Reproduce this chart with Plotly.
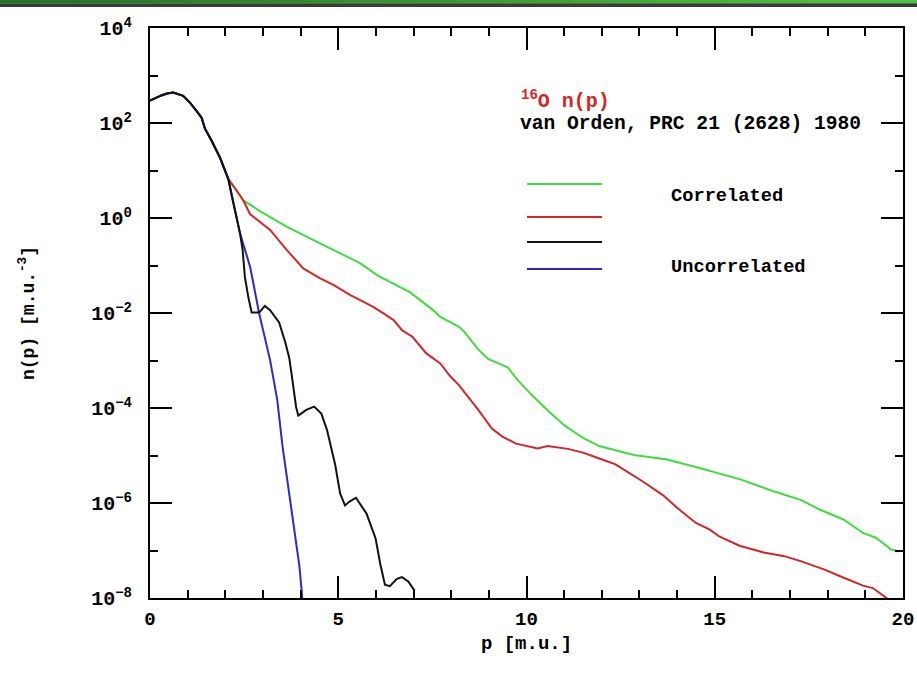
import plotly.graph_objects as go

# ---------------- data ----------------
p_correlated = [0, 0.15, 0.3, 0.45, 0.62, 0.88, 1.06, 1.24, 1.37, 1.46, 1.64, 1.86, 2.08,
                2.3, 2.48, 3.01, 3.63, 4.25, 4.87, 5.58, 6.06, 6.29, 6.9, 7.52, 7.71,
                8.21, 8.35, 8.7, 8.99, 9.2, 9.5, 9.75, 10.18, 10.6, 11.01, 11.5, 11.93,
                12.85, 13.7, 14.5, 15.3, 15.7, 16.58, 17.3, 17.8, 18.42, 18.94, 19.28,
                19.69, 19.9]
n_correlated = [295, 339, 380, 417, 437, 372, 269, 178, 129, 75.9, 41.7, 18.6, 6.6,
                3.8, 2.34, 1.26, 0.66, 0.372, 0.214, 0.112, 0.0603, 0.049, 0.0275, 0.0115, 8.3e-3,
                5.1e-3, 4.0e-3, 1.78e-3, 1.07e-3, 9.1e-4, 7.2e-4, 4.0e-4, 1.74e-4, 8.3e-5, 4.3e-5, 2.34e-5, 1.58e-5,
                1.02e-5, 8.3e-6, 5.75e-6, 3.8e-6, 3.1e-6, 1.74e-6, 1.15e-6, 7.2e-7, 4.5e-7, 2.34e-7, 1.86e-7,
                1.05e-7, 9.5e-8]

p_red = [0, 0.15, 0.3, 0.45, 0.62, 0.88, 1.06, 1.24, 1.37, 1.46, 1.64, 1.86, 2.08,
         2.3, 2.48, 2.66, 3.19, 3.63, 4.07, 4.52, 4.87, 5.31, 5.93, 6.2, 6.47, 6.7, 6.97,
         7.34, 7.71, 7.98, 8.21, 8.72, 9.08, 9.36, 9.72, 10.3, 10.56, 11.1, 11.5, 11.86,
         12.35, 12.65, 13.1, 13.63, 14.0, 14.5, 14.87, 15.13, 15.66, 16.3, 16.85, 17.3,
         17.9, 18.41, 18.94, 19.2, 19.6]
n_red = [295, 339, 380, 417, 437, 372, 269, 178, 129, 75.9, 41.7, 18.6, 6.6,
         3.8, 2.34, 1.2, 0.56, 0.214, 0.087, 0.0537, 0.0389, 0.024, 0.0135, 9.8e-3, 7.1e-3, 4.3e-3, 3.16e-3,
         1.41e-3, 8.7e-4, 4.6e-4, 3.0e-4, 9.1e-5, 3.7e-5, 2.5e-5, 1.78e-5, 1.41e-5, 1.58e-5, 1.38e-5, 1.15e-5, 9.1e-6,
         6.6e-6, 4.7e-6, 2.8e-6, 1.45e-6, 7.9e-7, 3.8e-7, 2.75e-7, 1.95e-7, 1.26e-7, 9.1e-8, 7.6e-8, 5.9e-8,
         4.0e-8, 2.7e-8, 1.82e-8, 1.62e-8, 9.5e-9]

p_black = [0, 0.15, 0.3, 0.45, 0.62, 0.88, 1.06, 1.24, 1.37, 1.46, 1.64, 1.86, 2.08,
           2.2, 2.39, 2.46, 2.52, 2.61, 2.70, 2.90, 3.05, 3.19, 3.43, 3.60, 3.70, 3.78,
           3.88, 3.94, 4.15, 4.36, 4.55, 4.70, 4.92, 5.05, 5.18, 5.30, 5.47, 5.75, 5.99,
           6.12, 6.24, 6.37, 6.55, 6.69, 6.86, 7.03]
n_black = [295, 339, 380, 417, 437, 372, 269, 178, 129, 75.9, 41.7, 18.6, 6.6,
           2.3, 0.48, 0.214, 0.0575, 0.0219, 0.0102, 0.0102, 0.0141, 0.0115, 6.3e-3, 2.3e-3, 1.12e-3, 4.0e-4,
           1.05e-4, 6.9e-5, 9.1e-5, 1.07e-4, 7.6e-5, 3.5e-5, 6.3e-6, 1.58e-6, 8.9e-7, 1.07e-6, 1.29e-6, 6.0e-7, 1.82e-7,
           5.0e-8, 1.9e-8, 1.78e-8, 2.5e-8, 2.75e-8, 2.24e-8, 1.41e-8]

p_uncorrelated = [0, 0.15, 0.3, 0.45, 0.62, 0.88, 1.06, 1.24, 1.37, 1.46, 1.64, 1.86, 2.08,
                  2.2, 2.39, 2.66, 2.90, 3.19, 3.38, 3.52, 3.72, 3.85, 3.97, 4.05]
n_uncorrelated = [295, 339, 380, 417, 437, 372, 269, 178, 129, 75.9, 41.7, 18.6, 6.6,
                  2.4, 0.48, 0.093, 9.8e-3, 1.02e-3, 1.48e-4, 1.55e-5, 1.15e-6, 2.3e-7, 4.6e-8, 8.9e-9]

x_tick_vals = [0, 5, 10, 15, 20]
x_tick_text = ["0", "5", "10", "15", "20"]
y_tick_vals = [1e-8, 1e-6, 1e-4, 1e-2, 1e0, 1e2, 1e4]
y_tick_text = ["10<sup>\u22128</sup>", "10<sup>\u22126</sup>", "10<sup>\u22124</sup>",
               "10<sup>\u22122</sup>", "10<sup>0</sup>", "10<sup>2</sup>", "10<sup>4</sup>"]
y_minor_vals = [1e-7, 1e-5, 1e-3, 1e-1, 1e1, 1e3]

title_text = "<sup>16</sup>O n(p)"
ref_text = "van Orden, PRC 21 (2628) 1980"
label_corr = "Correlated"
label_uncorr = "Uncorrelated"
x_title = "p [m.u.]"
y_title = "n(p) [m.u.<sup>-3</sup>]"

GREEN = "#3fdc3f"
RED = "#d42626"
BLACK = "#111111"
BLUE = "#2a2ad0"
FONT = "Liberation Mono"

# ---------------- figure ----------------
fig = go.Figure()
series = [
    (p_correlated, n_correlated, GREEN),
    (p_red, n_red, RED),
    (p_uncorrelated, n_uncorrelated, BLUE),
    (p_black, n_black, BLACK),
]
for px, ny, col in series:
    fig.add_trace(go.Scatter(x=px, y=ny, mode="lines",
                             line=dict(color=col, width=2), showlegend=False,
                             hoverinfo="skip"))

W, H = 917, 680
L, R, T, B = 150, 14, 28, 82
pw, ph = W - L - R, H - T - B


def px2x(x):
    return (x - L) / pw


def py2y(y):
    return (H - B - y) / ph


shapes = []
# top banner: green gradient stripe + dark grey stripe
nseg = 24
for i in range(nseg):
    f = i / (nseg - 1)
    r = int(0x1c + (0x4c - 0x1c) * f)
    g = int(0x78 + (0xc8 - 0x78) * f)
    b = int(0x1c + (0x3c - 0x1c) * f)
    shapes.append(dict(type="rect", xref="paper", yref="paper",
                       x0=px2x(i * W / nseg), x1=px2x((i + 1) * W / nseg + 1),
                       y0=py2y(3.3), y1=py2y(0), line=dict(width=0),
                       fillcolor=f"rgb({r},{g},{b})", layer="above"))
shapes.append(dict(type="rect", xref="paper", yref="paper",
                   x0=px2x(0), x1=px2x(W), y0=py2y(7), y1=py2y(3.3),
                   line=dict(width=0), fillcolor="#3a3a3a", layer="above"))

# legend sample lines
for ypix, col in [(184, GREEN), (217, RED), (242, BLACK), (269, BLUE)]:
    shapes.append(dict(type="line", xref="paper", yref="paper",
                       x0=px2x(527), x1=px2x(602), y0=py2y(ypix), y1=py2y(ypix),
                       line=dict(color=col, width=2)))

annotations = [
    dict(text=title_text, x=px2x(519), y=py2y(100), xref="paper", yref="paper",
         xanchor="left", yanchor="middle", showarrow=False,
         font=dict(family=FONT, size=20, color=RED, weight="bold")),
    dict(text=ref_text, x=px2x(518), y=py2y(124), xref="paper", yref="paper",
         xanchor="left", yanchor="middle", showarrow=False,
         font=dict(family=FONT, size=19.6, color="black", weight="bold")),
    dict(text=label_corr, x=px2x(669), y=py2y(196), xref="paper", yref="paper",
         xanchor="left", yanchor="middle", showarrow=False,
         font=dict(family=FONT, size=18.7, color="black", weight="bold")),
    dict(text=label_uncorr, x=px2x(669), y=py2y(267), xref="paper", yref="paper",
         xanchor="left", yanchor="middle", showarrow=False,
         font=dict(family=FONT, size=18.7, color="black", weight="bold")),
]

fig.update_layout(
    width=W, height=H,
    margin=dict(l=L, r=R, t=T, b=B, pad=0, autoexpand=False),
    paper_bgcolor="white", plot_bgcolor="white",
    font=dict(family=FONT, size=18, color="black"),
    shapes=shapes, annotations=annotations,
    xaxis=dict(range=[0, 20], tickmode="array", tickvals=x_tick_vals, ticktext=x_tick_text,
               ticks="inside", ticklen=22, tickwidth=2, tickcolor="black",
               minor=dict(ticks="inside", ticklen=8, tickwidth=2, dtick=1, tickcolor="black"),
               showline=True, linecolor="black", linewidth=2, mirror="allticks",
               showgrid=False, zeroline=False, ticklabelstandoff=2, automargin=False,
               tickfont=dict(family=FONT, size=19, weight="bold"),
               title=dict(text=x_title, font=dict(family=FONT, size=19, weight="bold"), standoff=6)),
    yaxis=dict(type="log", range=[-8, 4], tickmode="array", tickvals=y_tick_vals, ticktext=y_tick_text,
               ticks="inside", ticklen=22, tickwidth=2, tickcolor="black",
               minor=dict(ticks="inside", ticklen=8, tickwidth=2, tickmode="array",
                          tickvals=y_minor_vals, tickcolor="black"),
               showline=True, linecolor="black", linewidth=2, mirror="allticks",
               showgrid=False, zeroline=False, ticklabelstandoff=12, automargin=False,
               tickfont=dict(family=FONT, size=20, weight="bold"),
               title=dict(text=y_title, font=dict(family=FONT, size=18, weight="bold"), standoff=52)),
)

fig.write_html("out.html", config={"displayModeBar": False},
               post_script="document.body.style.margin='0';")
